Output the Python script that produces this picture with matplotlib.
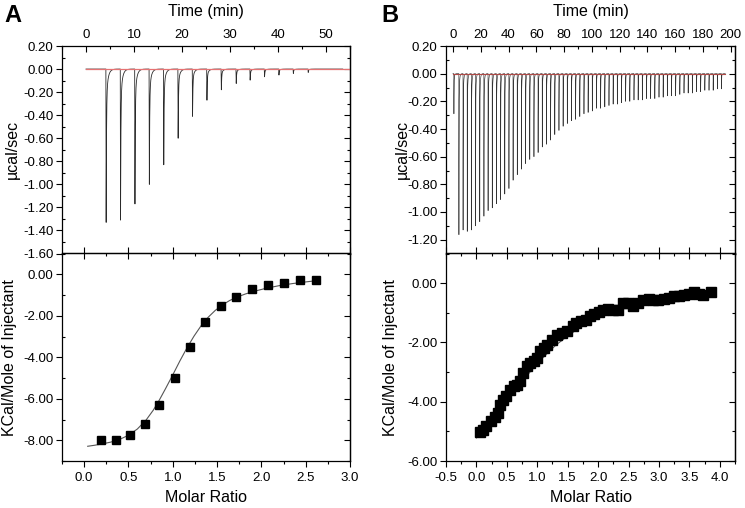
import numpy as np
import matplotlib
matplotlib.use('Agg')
import matplotlib.pyplot as plt
from matplotlib.ticker import MultipleLocator, FormatStrFormatter

plt.rcParams['font.family'] = ['Liberation Sans', 'DejaVu Sans']
plt.rcParams['axes.unicode_minus'] = False

# ---------------- Panel A data ----------------
a_inj_time = [4.2, 7.2, 10.2, 13.2, 16.2, 19.2, 22.2, 25.2, 28.2, 31.3,
              34.2, 37.2, 40.2, 43.2, 46.3]
a_inj_peak = [-1.33, -1.31, -1.17, -1.00, -0.83, -0.60, -0.41, -0.27, -0.18,
              -0.125, -0.096, -0.067, -0.052, -0.038, -0.029]
a_time_span = [0.0, 53.5]

a_ratio = [0.19, 0.36, 0.52, 0.69, 0.85, 1.02, 1.19, 1.36, 1.54, 1.71,
           1.89, 2.07, 2.25, 2.44, 2.62]
a_heat = [-8.00, -8.01, -7.77, -7.23, -6.31, -4.98, -3.51, -2.29, -1.51,
          -1.12, -0.72, -0.54, -0.42, -0.30, -0.27]
a_fit_x = [0.04, 0.12, 0.20, 0.30, 0.40, 0.50, 0.60, 0.70, 0.78, 0.85, 0.92,
           1.00, 1.08, 1.16, 1.24, 1.32, 1.40, 1.48, 1.56, 1.64, 1.72, 1.82,
           1.92, 2.05, 2.20, 2.35, 2.50, 2.62]
a_fit_y = [-8.29, -8.24, -8.18, -8.09, -7.96, -7.76, -7.46, -7.02, -6.55,
           -6.05, -5.50, -4.85, -4.18, -3.55, -2.98, -2.48, -2.07, -1.74,
           -1.48, -1.27, -1.11, -0.95, -0.82, -0.68, -0.55, -0.45, -0.37, -0.31]

# ---------------- Panel B data ----------------
b_inj_time = [0.7, 4.3, 7.3, 10.3, 13.3, 16.3, 19.3, 22.3, 25.3, 28.3, 31.3,
              34.3, 37.3, 40.3, 43.3, 46.3, 49.3, 52.3, 55.3, 58.3, 61.3,
              64.3, 67.3, 70.3, 73.3, 76.3, 79.3, 82.3, 85.3, 88.3, 91.3,
              94.3, 97.3, 100.3, 103.3, 106.3, 109.3, 112.3, 115.3, 118.3,
              121.3, 124.3, 127.3, 130.3, 133.3, 136.3, 139.3, 142.3, 145.3,
              148.3, 151.3, 154.3, 157.3, 160.3, 163.3, 166.3, 169.3, 172.3,
              175.3, 178.3, 181.3, 184.3, 187.3, 190.3, 193.3]
b_inj_peak = [-0.29, -1.164, -1.13, -1.14, -1.13, -1.10, -1.07, -1.03, -0.99,
              -0.97, -0.94, -0.91, -0.87, -0.83, -0.77, -0.73, -0.69, -0.65,
              -0.62, -0.60, -0.57, -0.53, -0.51, -0.48, -0.44, -0.41, -0.38,
              -0.36, -0.34, -0.33, -0.31, -0.29, -0.28, -0.27, -0.25, -0.25,
              -0.24, -0.23, -0.22, -0.22, -0.21, -0.20, -0.20, -0.19, -0.19,
              -0.19, -0.18, -0.18, -0.18, -0.17, -0.17, -0.16, -0.16, -0.16,
              -0.15, -0.14, -0.14, -0.14, -0.13, -0.13, -0.12, -0.12, -0.12,
              -0.11, -0.11]
b_time_span = [0.0, 196.0]

b_ratio = [0.06, 0.11, 0.16, 0.24, 0.30, 0.36, 0.38, 0.44, 0.49, 0.55,
           0.61, 0.66, 0.72, 0.77, 0.83, 0.88, 0.94, 0.99, 1.05, 1.11,
           1.16, 1.24, 1.33, 1.41, 1.49, 1.58, 1.63, 1.72, 1.80, 1.86,
           1.94, 2.02, 2.08, 2.16, 2.24, 2.33, 2.41, 2.49, 2.58, 2.66,
           2.74, 2.83, 2.91, 2.99, 3.08, 3.16, 3.24, 3.33, 3.41, 3.49,
           3.58, 3.66, 3.72, 3.86]
b_heat = [-5.03, -4.94, -4.83, -4.66, -4.50, -4.38, -4.10, -3.93, -3.82, -3.60,
          -3.48, -3.43, -3.31, -3.03, -2.81, -2.70, -2.64, -2.53, -2.30, -2.19,
          -2.08, -1.91, -1.74, -1.69, -1.63, -1.46, -1.33, -1.29, -1.24, -1.12,
          -1.04, -0.96, -0.90, -0.88, -0.90, -0.92, -0.67, -0.67, -0.76, -0.67,
          -0.56, -0.54, -0.56, -0.56, -0.54, -0.51, -0.45, -0.45, -0.39, -0.36,
          -0.31, -0.36, -0.39, -0.31]
b_fit_x = [0.0, 0.1, 0.3, 0.5, 0.7, 0.9, 1.1, 1.3, 1.5, 1.7, 1.9, 2.1, 2.3,
           2.5, 2.7, 2.9, 3.1, 3.3, 3.5, 3.7, 3.86]
b_fit_y = [-5.22, -4.95, -4.45, -3.95, -3.45, -2.95, -2.50, -2.10, -1.78,
           -1.50, -1.27, -1.08, -0.93, -0.80, -0.70, -0.61, -0.54, -0.48,
           -0.43, -0.39, -0.35]


def thermogram(span, times, peaks, step=0.004):
    t = np.arange(span[0], span[1], step)
    y = np.zeros_like(t)
    for ti, p in zip(times, peaks):
        dt = t - ti
        rise = (dt >= -0.06) & (dt < 0)
        y[rise] += p * (dt[rise] + 0.06) / 0.06
        dec = dt >= 0
        y[dec] += p * (0.8 * np.exp(-dt[dec] / 0.07) + 0.2 * np.exp(-dt[dec] / 0.35))
    return t, y


fig = plt.figure(figsize=(7.45, 5.08), dpi=100)
W, H = 745.0, 508.0


def axes_px(l, t, r, b):
    return fig.add_axes([l / W, 1 - b / H, (r - l) / W, (b - t) / H])


TL = 9.5
LBL = 11.5
MAJ = 4.0
MIN = 2.3


def style_left_right(ax, major, minor, fmt):
    ax.yaxis.set_major_locator(MultipleLocator(major))
    ax.yaxis.set_minor_locator(MultipleLocator(minor))
    ax.yaxis.set_major_formatter(FormatStrFormatter(fmt))
    ax.tick_params(axis='y', which='major', direction='out', length=MAJ,
                   width=0.8, left=True, right=False, labelsize=TL, pad=2)
    ax.tick_params(axis='y', which='minor', direction='in', length=MIN,
                   width=0.8, left=True, right=False)
    sec = ax.secondary_yaxis('right')
    sec.yaxis.set_major_locator(MultipleLocator(major))
    sec.yaxis.set_minor_locator(MultipleLocator(minor))
    sec.tick_params(which='major', direction='in', length=MAJ, width=0.8,
                    labelright=False)
    sec.tick_params(which='minor', direction='in', length=MIN, width=0.8)
    sec.spines['right'].set_linewidth(0.9)


def style_top_time(ax, major, minor, xlim):
    ax.set_xlim(*xlim)
    ax.xaxis.tick_top()
    ax.xaxis.set_label_position('top')
    ax.xaxis.set_major_locator(MultipleLocator(major))
    ax.xaxis.set_minor_locator(MultipleLocator(minor))
    ax.xaxis.set_major_formatter(FormatStrFormatter('%d'))
    ax.tick_params(axis='x', which='major', direction='in', length=MAJ,
                   width=0.8, top=True, bottom=False, labelsize=TL, pad=3.7)
    ax.tick_params(axis='x', which='minor', direction='in', length=MIN,
                   width=0.8, top=True, bottom=False)
    ax.set_xlabel('Time (min)', fontsize=LBL, labelpad=9)


def style_bottom_ratio(ax, xlim):
    ax.set_xlim(*xlim)
    ax.xaxis.set_major_locator(MultipleLocator(0.5))
    ax.xaxis.set_minor_locator(MultipleLocator(0.25))
    ax.xaxis.set_major_formatter(FormatStrFormatter('%.1f'))
    ax.tick_params(axis='x', which='major', direction='out', length=MAJ,
                   width=0.8, top=False, bottom=True, labelsize=TL, pad=4)
    ax.tick_params(axis='x', which='minor', direction='out', length=MIN,
                   width=0.8, top=False, bottom=True)
    sec = ax.secondary_xaxis('top')
    sec.xaxis.set_major_locator(MultipleLocator(0.5))
    sec.xaxis.set_minor_locator(MultipleLocator(0.25))
    sec.tick_params(which='major', direction='inout', length=8, width=0.8,
                    labeltop=False)
    sec.tick_params(which='minor', direction='in', length=MIN, width=0.8)
    sec.spines['top'].set_linewidth(0.9)
    ax.set_xlabel('Molar Ratio', fontsize=LBL, labelpad=4)


# ---------------- Panel A ----------------
axA1 = axes_px(62, 46, 350, 253.5)
axA2 = axes_px(62, 253.5, 350, 461)

tA, yA = thermogram(a_time_span, a_inj_time, a_inj_peak)
axA1.plot(tA, yA, color='#2a2a2a', lw=0.6)
axA1.plot([a_time_span[0], 55], [0, 0], color='#e57373', lw=0.9)
axA1.set_ylim(-1.6, 0.2)
style_top_time(axA1, 10, 5, (-5, 55))
style_left_right(axA1, 0.2, 0.1, '%.2f')
axA1.set_ylabel('µcal/sec', fontsize=LBL)
axA1.yaxis.set_label_coords(-0.145, 0.5)

axA2.plot(a_fit_x, a_fit_y, color='#555555', lw=0.8)
axA2.plot(a_ratio, a_heat, 's', color='black', ms=6)
axA2.set_ylim(-9, 1)
style_bottom_ratio(axA2, (-0.25, 3.0))
style_left_right(axA2, 2, 1, '%.2f')
axA2.set_ylabel('KCal/Mole of Injectant', fontsize=LBL)
axA2.yaxis.set_label_coords(-0.155, 0.5)

# ---------------- Panel B ----------------
axB1 = axes_px(446, 46, 735, 253.5)
axB2 = axes_px(446, 253.5, 735, 461)

tB, yB = thermogram(b_time_span, b_inj_time, b_inj_peak)
axB1.plot(tB, yB, color='#333333', lw=0.45)
axB1.plot([b_time_span[0], 196], [0, 0], color='#b04a47', lw=0.8)
axB1.set_ylim(-1.3, 0.2)
style_top_time(axB1, 20, 10, (-5, 203))
style_left_right(axB1, 0.2, 0.1, '%.2f')
axB1.set_ylabel('µcal/sec', fontsize=LBL)
axB1.yaxis.set_label_coords(-0.125, 0.5)

axB2.plot(b_fit_x, b_fit_y, color='#555555', lw=0.8)
axB2.plot(b_ratio, b_heat, 's', color='black', ms=6.5)
axB2.set_ylim(-6, 1)
style_bottom_ratio(axB2, (-0.5, 4.25))
style_left_right(axB2, 2, 1, '%.2f')
axB2.set_ylabel('KCal/Mole of Injectant', fontsize=LBL)
axB2.yaxis.set_label_coords(-0.165, 0.5)

for ax in (axA1, axA2, axB1, axB2):
    for s in ax.spines.values():
        s.set_linewidth(0.9)

fig.text(4 / W, 1 - 15 / H, 'A', fontsize=17, fontweight='bold', va='center', ha='left')
fig.text(381 / W, 1 - 15 / H, 'B', fontsize=17, fontweight='bold', va='center', ha='left')

fig.savefig('out.png', dpi=100)
